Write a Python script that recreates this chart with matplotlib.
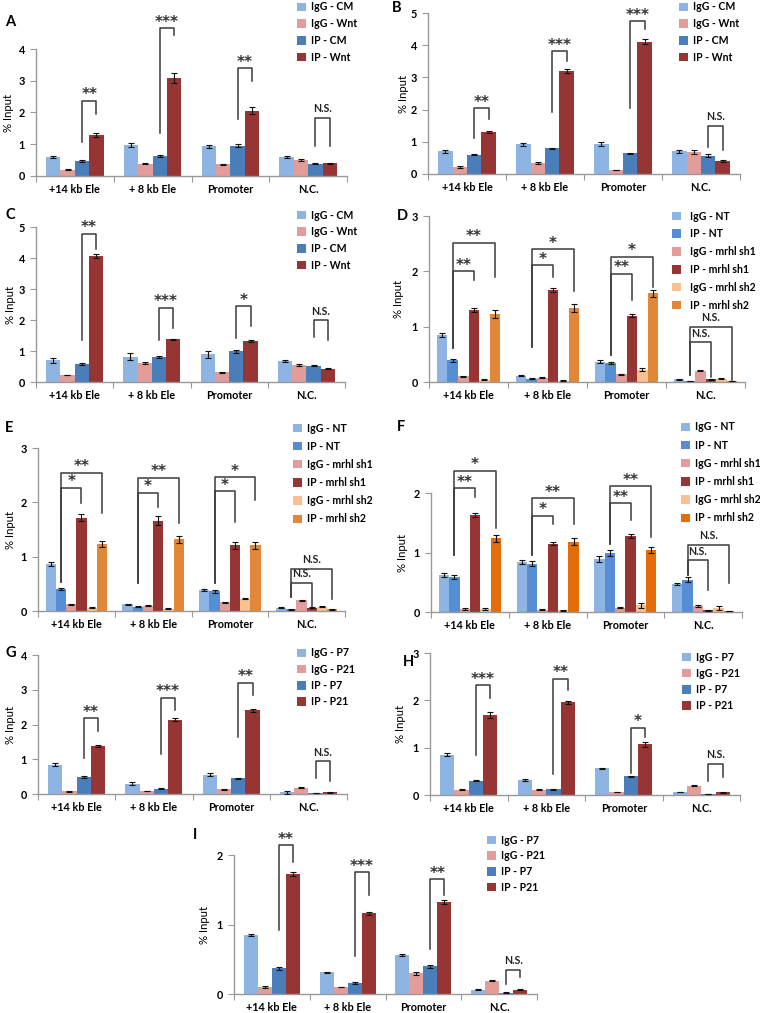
import matplotlib
matplotlib.use('Agg')
import matplotlib.pyplot as plt
from matplotlib.patches import Patch
import numpy as np

plt.rcParams['font.family'] = ['Lato', 'DejaVu Sans']

W, H = 760, 1013

categories = ['+14 kb Ele', '+ 8 kb Ele', 'Promoter', 'N.C.']
wnt_series = ['IgG - CM', 'IgG - Wnt', 'IP - CM', 'IP - Wnt']
sh_series = ['IgG - NT', 'IP - NT', 'IgG - mrhl sh1', 'IP - mrhl sh1', 'IgG - mrhl sh2', 'IP - mrhl sh2']
age_series = ['IgG - P7', 'IgG - P21', 'IP - P7', 'IP - P21']

# values: one row per series, one column per category
a_vals = [[0.60, 0.97, 0.94, 0.60], [0.20, 0.39, 0.37, 0.49], [0.47, 0.64, 0.96, 0.39], [1.30, 3.09, 2.06, 0.40]]
a_errs = [[0.03, 0.06, 0.05, 0.03], [0.01, 0.02, 0.02, 0.03], [0.02, 0.03, 0.05, 0.02], [0.07, 0.15, 0.11, 0.02]]
b_vals = [[0.70, 0.92, 0.92, 0.70], [0.22, 0.33, 0.12, 0.68], [0.60, 0.80, 0.64, 0.57], [1.29, 3.20, 4.11, 0.40]]
b_errs = [[0.04, 0.05, 0.06, 0.04], [0.02, 0.03, 0.01, 0.07], [0.02, 0.02, 0.02, 0.05], [0.03, 0.07, 0.08, 0.02]]
c_vals = [[0.70, 0.82, 0.90, 0.67], [0.23, 0.61, 0.31, 0.55], [0.58, 0.80, 0.99, 0.53], [4.06, 1.38, 1.33, 0.43]]
c_errs = [[0.09, 0.10, 0.11, 0.03], [0.01, 0.03, 0.02, 0.03], [0.02, 0.04, 0.04, 0.01], [0.06, 0.02, 0.03, 0.01]]
d_vals = [[0.85, 0.11, 0.37, 0.05], [0.39, 0.06, 0.35, 0.02], [0.10, 0.08, 0.14, 0.20],
          [1.30, 1.66, 1.20, 0.05], [0.04, 0.02, 0.22, 0.06], [1.23, 1.34, 1.60, 0.02]]
d_errs = [[0.04, 0.01, 0.03, 0.005], [0.03, 0.01, 0.02, 0.005], [0.01, 0.01, 0.01, 0.01],
          [0.03, 0.03, 0.03, 0.01], [0.01, 0.01, 0.03, 0.01], [0.07, 0.07, 0.07, 0.005]]
e_vals = [[0.86, 0.12, 0.38, 0.06], [0.40, 0.08, 0.36, 0.03], [0.12, 0.10, 0.16, 0.20],
          [1.72, 1.66, 1.21, 0.06], [0.06, 0.04, 0.23, 0.08], [1.23, 1.32, 1.21, 0.03]]
e_errs = [[0.04, 0.01, 0.02, 0.005], [0.02, 0.01, 0.03, 0.005], [0.01, 0.01, 0.01, 0.01],
          [0.07, 0.08, 0.06, 0.01], [0.01, 0.01, 0.01, 0.005], [0.05, 0.06, 0.06, 0.005]]
f_vals = [[0.62, 0.84, 0.89, 0.47], [0.59, 0.81, 0.99, 0.54], [0.05, 0.04, 0.07, 0.10],
          [1.63, 1.15, 1.28, 0.03], [0.05, 0.03, 0.11, 0.07], [1.24, 1.18, 1.04, 0.02]]
f_errs = [[0.03, 0.04, 0.05, 0.02], [0.03, 0.04, 0.05, 0.04], [0.01, 0.005, 0.01, 0.01],
          [0.03, 0.02, 0.03, 0.005], [0.02, 0.005, 0.04, 0.03], [0.06, 0.06, 0.05, 0.005]]
g_vals = [[0.84, 0.30, 0.56, 0.05], [0.08, 0.09, 0.13, 0.18], [0.49, 0.15, 0.45, 0.02], [1.37, 2.14, 2.41, 0.05]]
g_errs = [[0.04, 0.05, 0.04, 0.05], [0.01, 0.01, 0.01, 0.01], [0.03, 0.01, 0.02, 0.005], [0.03, 0.05, 0.05, 0.01]]
h_vals = [[0.85, 0.32, 0.56, 0.06], [0.11, 0.11, 0.06, 0.20], [0.30, 0.12, 0.40, 0.02], [1.69, 1.96, 1.07, 0.06]]
h_errs = [[0.03, 0.02, 0.02, 0.005], [0.01, 0.01, 0.005, 0.01], [0.01, 0.01, 0.01, 0.005], [0.07, 0.03, 0.06, 0.01]]
i_vals = [[0.85, 0.31, 0.56, 0.06], [0.10, 0.10, 0.30, 0.19], [0.37, 0.16, 0.40, 0.02], [1.73, 1.16, 1.32, 0.06]]
i_errs = [[0.02, 0.01, 0.02, 0.005], [0.01, 0.005, 0.02, 0.01], [0.02, 0.01, 0.02, 0.005], [0.03, 0.02, 0.03, 0.005]]

# significance brackets: (category, left series, right series, line y, left leg bottom, right leg bottom, label)
a_sig = [(0, 2, 3, 2.36, 1.07, 1.95, '**'), (1, 2, 3, 4.65, 1.34, 4.44, '***'),
         (2, 2, 3, 3.39, 1.81, 3.00, '**'), (3, 2, 3, 1.84, 0.95, 0.95, 'N.S.')]
b_sig = [(0, 2, 3, 2.04, 1.11, 1.71, '**'), (1, 2, 3, 3.81, 1.94, 3.50, '***'),
         (2, 2, 3, 4.74, 2.04, 4.50, '***'), (3, 2, 3, 1.50, 0.85, 0.73, 'N.S.')]
c_sig = [(0, 2, 3, 4.78, 1.34, 4.30, '**'), (1, 2, 3, 2.39, 1.34, 1.75, '***'),
         (2, 2, 3, 2.44, 1.42, 1.80, '*'), (3, 2, 3, 1.99, 1.45, 1.34, 'N.S.')]
d_sig = [(0, 1, 3, 2.00, 0.62, 1.85, '**'), (0, 1, 5, 2.52, 0.62, 1.89, '**'),
         (1, 1, 3, 2.11, 0.63, 1.89, '*'), (1, 1, 5, 2.40, 0.63, 1.65, '*'),
         (2, 1, 3, 1.96, 0.48, 1.49, '**'), (2, 1, 5, 2.26, 0.48, 1.71, '*'),
         (3, 1, 3, 0.72, 0.12, 0.09, 'N.S.'), (3, 1, 5, 1.00, 0.12, 0.03, 'N.S.')]
e_sig = [(0, 1, 3, 2.27, 0.54, 1.99, '*'), (0, 1, 5, 2.54, 0.54, 1.80, '**'),
         (1, 1, 3, 2.17, 0.52, 1.91, '*'), (1, 1, 5, 2.45, 0.52, 1.62, '**'),
         (2, 1, 3, 2.20, 0.51, 1.64, '*'), (2, 1, 5, 2.46, 0.51, 2.05, '*'),
         (3, 1, 3, 0.52, 0.26, 0.08, 'N.S.'), (3, 1, 5, 0.78, 0.26, 0.22, 'N.S.')]
f_sig = [(0, 1, 3, 2.08, 0.96, 1.94, '**'), (0, 1, 5, 2.37, 0.96, 1.42, '*'),
         (1, 1, 3, 1.62, 0.96, 1.48, '*'), (1, 1, 5, 1.91, 0.96, 1.48, '**'),
         (2, 1, 3, 1.83, 1.14, 1.54, '**'), (2, 1, 5, 2.11, 1.14, 1.26, '**'),
         (3, 1, 3, 0.87, 0.62, 0.37, 'N.S.'), (3, 1, 5, 1.13, 0.62, 0.48, 'N.S.')]
g_sig = [(0, 2, 3, 2.18, 1.05, 1.80, '**'), (1, 2, 3, 2.76, 1.16, 2.42, '***'),
         (2, 2, 3, 3.20, 1.64, 2.85, '**'), (3, 2, 3, 0.94, 0.46, 0.36, 'N.S.')]
h_sig = [(0, 2, 3, 2.32, 0.85, 2.04, '***'), (1, 2, 3, 2.46, 0.45, 2.21, '**'),
         (2, 2, 3, 1.42, 0.46, 1.23, '*'), (3, 2, 3, 0.66, 0.29, 0.39, 'N.S.')]
i_sig = [(0, 2, 3, 2.14, 0.92, 1.90, '**'), (1, 2, 3, 1.75, 0.54, 1.42, '***'),
         (2, 2, 3, 1.65, 0.65, 1.42, '**'), (3, 2, 3, 0.35, 0.14, 0.25, 'N.S.')]

four_colors = ['#8DB4E2', '#E29D9B', '#4A7EBB', '#973434']
six_colors = ['#8DB4E2', '#558ED5', '#E29D9B', '#973434', '#FAC090', '#E0873A']
six_colors_f = ['#8DB4E2', '#558ED5', '#E29D9B', '#973434', '#FAC090', '#E46C0A']

axis_gray = '#999999'
txt = 7.6
fig = plt.figure(figsize=(W / 100, H / 100), dpi=100)


def fx(px):
    return px / W


def fy(py):
    return 1 - py / H


def panel(letter, box, ymax, vals, errs, series, colors, sig, leg, ylab_x, letter_xy, textpad=0.5):
    l, top, r, y0 = box
    ax = fig.add_axes([fx(l), fy(y0), (r - l) / W, (y0 - top) / H])
    n = len(series)
    w = 0.8 / n if n == 6 else 0.185
    xc = np.arange(len(categories))
    for i in range(n):
        x = xc + (i - (n - 1) / 2) * w
        ax.bar(x, vals[i], w, color=colors[i], label=series[i], zorder=2)
        ax.errorbar(x, vals[i], yerr=errs[i], fmt='none', ecolor='#111111',
                    elinewidth=0.8, capsize=2.0, capthick=0.8, zorder=3)
    for cat, si, sj, yl, yb1, yb2, lab in sig:
        x1 = cat + (si - (n - 1) / 2) * w
        x2 = cat + (sj - (n - 1) / 2) * w
        ax.plot([x1, x1, x2, x2], [yb1, yl, yl, yb2], color='#3a3a3a', lw=1.1,
                clip_on=False, zorder=4)
        if lab == 'N.S.':
            ax.annotate(lab, ((x1 + x2) / 2, yl), xytext=(0, 2.5),
                        textcoords='offset points', ha='center', va='bottom',
                        fontsize=txt, fontweight='bold', color='#222222',
                        annotation_clip=False)
        else:
            ax.annotate(lab, ((x1 + x2) / 2, yl), xytext=(0, -1),
                        textcoords='offset points', ha='center', va='bottom',
                        fontsize=11, fontweight='bold', family='DejaVu Sans',
                        color='#333333', annotation_clip=False)
    ax.set_xlim(-0.5, len(categories) - 0.5)
    ax.set_ylim(0, ymax)
    ax.set_yticks(range(0, ymax + 1))
    ax.set_xticks(np.arange(len(categories) + 1) - 0.5)
    ax.set_xticklabels([])
    ax.set_xticks(xc, minor=True)
    ax.set_xticklabels(categories, minor=True)
    ax.tick_params(axis='x', which='major', length=4, color=axis_gray, direction='out')
    ax.tick_params(axis='x', which='minor', length=0, pad=6, labelsize=txt + 0.2)
    ax.tick_params(axis='y', length=4, color=axis_gray, pad=4, labelsize=txt + 0.2)
    for t in ax.get_xticklabels(minor=True) + ax.get_yticklabels():
        t.set_fontweight('bold')
    for s in ['top', 'right']:
        ax.spines[s].set_visible(False)
    for s in ['left', 'bottom']:
        ax.spines[s].set_color(axis_gray)
        ax.spines[s].set_linewidth(1.0)
    handles = [Patch(facecolor=c, edgecolor='none') for c in colors]
    lx, ly, spacing = leg
    ax.legend(handles, series, loc='upper left', bbox_to_anchor=(fx(lx), fy(ly)),
              bbox_transform=fig.transFigure, frameon=False, borderpad=0,
              borderaxespad=0, handlelength=0.85, handleheight=0.85,
              handletextpad=textpad, labelspacing=spacing,
              prop={'weight': 'bold', 'size': txt})
    fig.text(fx(ylab_x), fy((top + y0) / 2), '% Input', rotation=90,
             ha='center', va='center', fontsize=8.2)
    fig.text(fx(letter_xy[0]), fy(letter_xy[1]), letter, fontsize=10.5,
             fontweight='bold', ha='left', va='center')
    return ax


panel('A', (36, 49, 347, 176), 4, a_vals, a_errs, wnt_series, four_colors, a_sig,
      (297, 1.5, 0.55), 9, (5, 22))
panel('B', (428, 13, 740, 174), 5, b_vals, b_errs, wnt_series, four_colors, b_sig,
      (679, 1.5, 0.55), 403, (392, 8))
panel('C', (36, 227, 345, 382), 5, c_vals, c_errs, wnt_series, four_colors, c_sig,
      (297, 209.5, 0.55), 10, (5, 215))
panel('D', (429, 216, 745, 382), 3, d_vals, d_errs, sh_series, six_colors, d_sig,
      (672, 210.5, 0.65), 398, (397, 216), textpad=0.9)
panel('E', (38, 448, 345, 611), 3, e_vals, e_errs, sh_series, six_colors, e_sig,
      (293, 422.5, 0.68), 10, (5, 428))
panel('F', (431, 493, 742, 612), 2, f_vals, f_errs, sh_series, six_colors_f, f_sig,
      (681, 421.5, 0.68), 402, (397, 427))
panel('G', (38, 655, 347, 794), 4, g_vals, g_errs, age_series, four_colors, g_sig,
      (297, 647.5, 0.5), 10, (5, 653))
panel('H', (430, 653, 740, 795), 3, h_vals, h_errs, age_series, four_colors, h_sig,
      (682, 651.5, 0.5), 401, (403, 662))
panel('I', (234, 855, 537, 994), 2, i_vals, i_errs, age_series, four_colors, i_sig,
      (487, 834.5, 0.45), 205, (193, 835))

fig.savefig('out.png', dpi=100)
